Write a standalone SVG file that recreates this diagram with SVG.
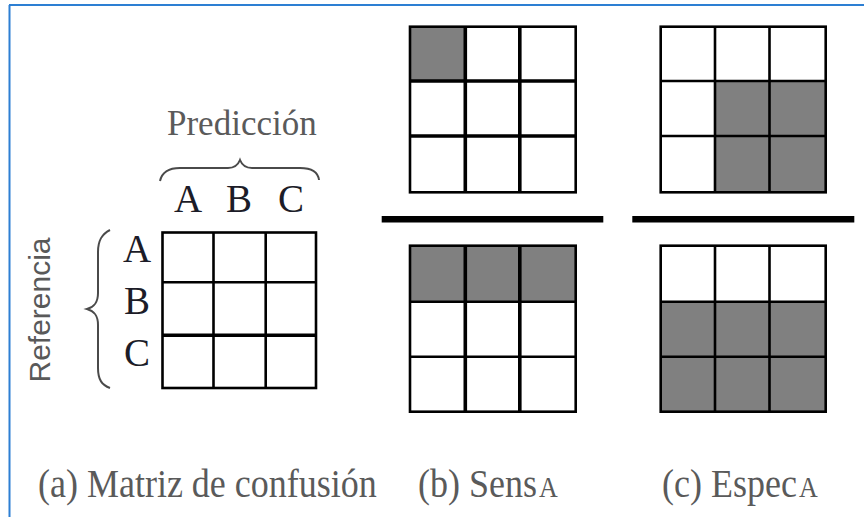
<svg xmlns="http://www.w3.org/2000/svg" width="864" height="517" viewBox="0 0 864 517">
<style>
.grid{fill:none;stroke:#000;stroke-width:2.6;stroke-linejoin:miter}
.thick{fill:none;stroke:#000;stroke-width:3.6}
.gray{fill:#808080}
.lbl{font-family:"Liberation Serif","Times New Roman",serif;font-size:39px;fill:#1c1c28;text-anchor:middle}
.cap{font-family:"Liberation Serif","Times New Roman",serif;font-size:36px;fill:#5a5a5a}
.sub{font-family:"Liberation Serif","Times New Roman",serif;font-size:26px;fill:#5a5a5a}
.brace{fill:none;stroke:#4a4a4a;stroke-width:2}
</style>
<rect width="864" height="517" fill="#fff"/>
<g id="frame">
<line x1="9" y1="5" x2="864" y2="5" stroke="#2d7fd3" stroke-width="2"/>
<line x1="9.5" y1="5" x2="9.5" y2="517" stroke="#2d7fd3" stroke-width="2"/>
</g>
<g id="matrix-a">
<text class="cap" x="167" y="135" style="font-size:35px">Predicción</text>
<path class="brace" d="M160,181 C162,172 168,168 180,168 L228,168 C234,168 238,165 240,160 C242,165 246,168 252,168 L300,168 C312,168 318,172 319,180"/>
<text class="lbl" x="188" y="212">A</text>
<text class="lbl" x="239" y="212">B</text>
<text class="lbl" x="291" y="212">C</text>
<text font-family="Liberation Sans, Arial, sans-serif" font-size="30" fill="#595959" text-anchor="middle" transform="translate(50,310) rotate(-90)">Referencia</text>
<path class="brace" d="M110,230 C102,234 98,240 98,252 L98,293 C98,303 94,307 87,309 C94,311 98,315 98,325 L98,368 C98,380 102,385 110,388"/>
<text class="lbl" x="137" y="262">A</text>
<text class="lbl" x="137" y="314">B</text>
<text class="lbl" x="137" y="366">C</text>
<rect class="grid" x="162.5" y="232.5" width="153.5" height="155.5"/>
<path class="grid" d="M213.5,232.5V388M265.7,232.5V388M162.5,282.3H316"/>
<path class="thick" d="M162.5,335.3H316"/>
</g>
<g id="sens-num">
<rect class="gray" x="410" y="26.7" width="55.3" height="54.3"/>
<rect class="grid" x="410" y="26.7" width="165.7" height="165.6"/>
<path class="thick" d="M465.3,26.7V192.3M519.8,26.7V192.3M410,81H575.7M410,136H575.7"/>
</g>
<g id="espec-num">
<rect class="gray" x="715" y="81" width="110.7" height="111.3"/>
<rect class="grid" x="660.7" y="26.7" width="165" height="165.6"/>
<path class="grid" d="M715,26.7V192.3M769.5,26.7V192.3M660.7,81H825.7M660.7,136H825.7"/>
</g>
<g id="bars">
<rect x="381.7" y="216" width="221.6" height="6.5" fill="#000"/>
<rect x="632.3" y="216" width="222" height="6.5" fill="#000"/>
</g>
<g id="sens-den">
<rect class="gray" x="410" y="245.7" width="165.7" height="56"/>
<rect class="grid" x="410" y="245.7" width="165.7" height="166"/>
<path class="grid" d="M410,301.7H575.7M410,356.7H575.7"/>
<path class="thick" d="M465.3,245.7V411.7M519.8,245.7V411.7"/>
</g>
<g id="espec-den">
<rect class="gray" x="660.7" y="301.7" width="165" height="110"/>
<rect class="grid" x="660.7" y="245.7" width="165" height="166"/>
<path class="grid" d="M715,245.7V411.7M769.5,245.7V411.7M660.7,301.7H825.7M660.7,356.7H825.7"/>
</g>
<g id="captions" transform="translate(0,497) scale(1,1.1) translate(0,-497)">
<text class="cap" x="38" y="497">(a) Matriz de confusión</text>
<text class="cap" x="418" y="497">(b) Sens</text>
<text class="sub" x="539" y="497">A</text>
<text class="cap" x="662" y="497">(c) Espec</text>
<text class="sub" x="799" y="497">A</text>
</g>
</svg>
